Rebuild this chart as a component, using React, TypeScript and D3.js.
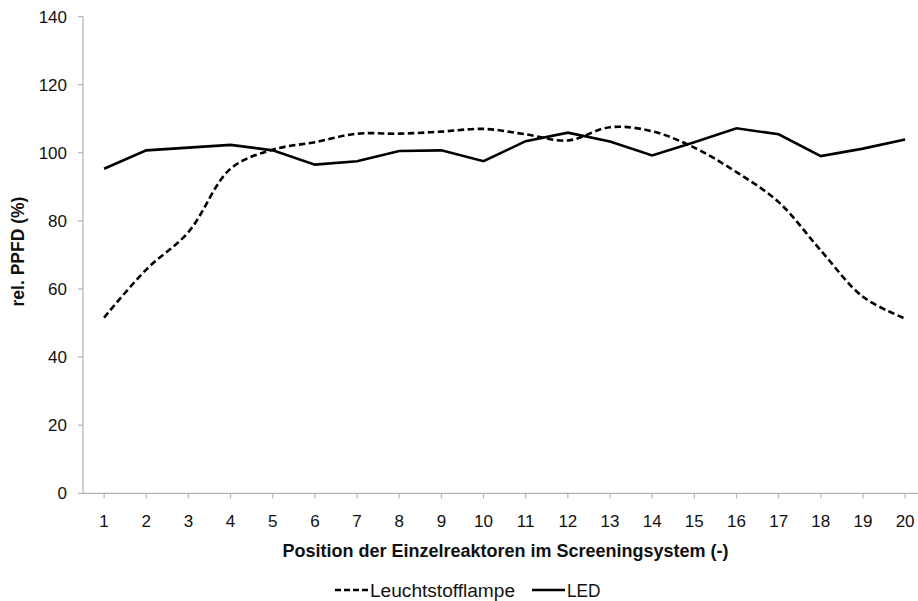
import React from "react";
import * as d3 from "d3";

const categories = ["1","2","3","4","5","6","7","8","9","10","11","12","13","14","15","16","17","18","19","20"];
const leuchtstofflampe = [51.6, 65.7, 76.7, 95.3, 100.9, 103.1, 105.6, 105.6, 106.2, 107.0, 105.4, 103.6, 107.5, 106.3, 101.5, 94.3, 85.5, 71.3, 57.7, 51.3];
const led = [95.3, 100.7, 101.5, 102.3, 100.7, 96.5, 97.5, 100.5, 100.7, 97.5, 103.4, 105.9, 103.3, 99.2, 103.1, 107.2, 105.4, 99.0, 101.2, 103.9];
const yTicks = [0, 20, 40, 60, 80, 100, 120, 140];
const seriesNames = ["Leuchtstofflampe", "LED"];

const W = 918, H = 601;
const left = 83, top = 16.5, bottom = 493.3;
const step = 42.16;

export default function App() {
  const x = d3.scaleBand<string>().domain(categories).range([left, left + step * categories.length]);
  const y = d3.scaleLinear().domain([0, 140]).range([bottom, top]);
  const cx = (c: string) => (x(c) as number) + x.bandwidth() / 2;

  const smooth = d3.line<number>().x((_, i) => cx(categories[i])).y(d => y(d)).curve(d3.curveCatmullRom.alpha(0.5));
  const straight = d3.line<number>().x((_, i) => cx(categories[i])).y(d => y(d));
  const axisColor = "#b3b3b3";
  const font = "Liberation Sans, Arial, sans-serif";
  const dash = "6.5,3.5";

  return (
    <svg width={W} height={H} style={{ position: "absolute", left: 0, top: 0, background: "#fff" }} fontFamily={font}>
      {/* y axis */}
      <line x1={left} x2={left} y1={top} y2={bottom} stroke={axisColor} strokeWidth={1.2} />
      {yTicks.map(t => (
        <g key={t}>
          <line x1={left - 5} x2={left} y1={y(t)} y2={y(t)} stroke={axisColor} strokeWidth={1.2} />
          <text x={67} y={y(t)} dy="0.36em" textAnchor="end" fontSize={17} fill="#111">{t}</text>
        </g>
      ))}
      {/* x axis */}
      <line x1={left} x2={W} y1={bottom} y2={bottom} stroke={axisColor} strokeWidth={1.2} />
      {categories.map(c => (
        <g key={c}>
          <line x1={cx(c)} x2={cx(c)} y1={bottom} y2={bottom + 5} stroke={axisColor} strokeWidth={1.2} />
          <text x={cx(c)} y={526.5} textAnchor="middle" fontSize={17} fill="#111">{c}</text>
        </g>
      ))}
      {/* lines */}
      <path d={smooth(leuchtstofflampe) || ""} fill="none" stroke="#000" strokeWidth={2.6} strokeDasharray={dash} />
      <path d={straight(led) || ""} fill="none" stroke="#000" strokeWidth={2.6} />
      {/* axis titles */}
      <text x={505.5} y={557} textAnchor="middle" fontSize={18} fontWeight="bold" fill="#111">Position der Einzelreaktoren im Screeningsystem (-)</text>
      <text transform={`translate(24,251.5) rotate(-90)`} textAnchor="middle" fontSize={17.5} fontWeight="bold" fill="#111">rel. PPFD (%)</text>
      {/* legend */}
      <line x1={335} x2={368} y1={590} y2={590} stroke="#000" strokeWidth={2.6} strokeDasharray="6,3" />
      <text x={370} y={596.5} fontSize={18} textLength={145} lengthAdjust="spacingAndGlyphs" fill="#111">{seriesNames[0]}</text>
      <line x1={532} x2={565} y1={590} y2={590} stroke="#000" strokeWidth={2.6} />
      <text x={567} y={596.5} fontSize={18} textLength={33.5} lengthAdjust="spacingAndGlyphs" fill="#111">{seriesNames[1]}</text>
    </svg>
  );
}
